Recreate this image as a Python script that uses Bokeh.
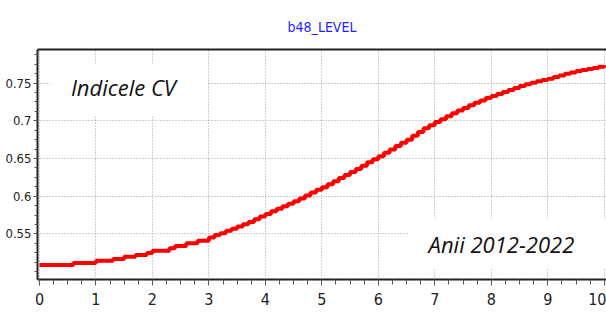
import numpy as np
from bokeh.plotting import figure
from bokeh.models import LinearAxis, FixedTicker, BoxAnnotation, Label, Range1d
from bokeh.embed import file_html
from bokeh.resources import INLINE

# ---- data ----
years = [round(0.1 * i, 1) for i in range(101)]  # model time 0..10 (2012-2022)
level = [
    0.5090, 0.5090, 0.5090, 0.5090, 0.5090, 0.5090, 0.5116, 0.5116, 0.5116, 0.5116,
    0.5147, 0.5147, 0.5147, 0.5169, 0.5169, 0.5200, 0.5200, 0.5222, 0.5222, 0.5249,
    0.5279, 0.5279, 0.5279, 0.5310, 0.5341, 0.5341, 0.5376, 0.5376, 0.5411, 0.5411,
    0.5455, 0.5487, 0.5510, 0.5544, 0.5570, 0.5600, 0.5630, 0.5660, 0.5695, 0.5730,
    0.5765, 0.5800, 0.5835, 0.5869, 0.5900, 0.5935, 0.5970, 0.6010, 0.6050, 0.6085,
    0.6120, 0.6160, 0.6200, 0.6240, 0.6280, 0.6320, 0.6360, 0.6405, 0.6450, 0.6490,
    0.6530, 0.6575, 0.6620, 0.6665, 0.6710, 0.6750, 0.6800, 0.6850, 0.6900, 0.6940,
    0.6984, 0.7020, 0.7060, 0.7100, 0.7135, 0.7170, 0.7205, 0.7240, 0.7270, 0.7300,
    0.7328, 0.7355, 0.7380, 0.7407, 0.7435, 0.7460, 0.7485, 0.7505, 0.7525, 0.7540,
    0.7558, 0.7580, 0.7600, 0.7624, 0.7640, 0.7659, 0.7672, 0.7685, 0.7700, 0.7715,
    0.7734,
]
x_ticks = [0, 1, 2, 3, 4, 5, 6, 7, 8, 9, 10]
x_tick_labels = ["0", "1", "2", "3", "4", "5", "6", "7", "8", "9", "10"]
y_ticks = [0.55, 0.6, 0.65, 0.7, 0.75]
y_tick_labels = ["0.55", "0.6", "0.65", "0.7", "0.75"]
title_text = "b48_LEVEL"
note_left = "Indicele CV"
note_right = "Anii 2012-2022"

NARROW = "'DejaVu Sans Condensed', sans-serif"

p = figure(width=606, height=312, output_backend="svg", toolbar_location=None,
           x_range=Range1d(-0.035, 10.04), y_range=Range1d(0.4897, 0.7944),
           title=title_text, min_border_left=37, min_border_right=0,
           min_border_top=49, min_border_bottom=33)
p.outline_line_color = None
p.background_fill_color = "white"
p.border_fill_color = "white"

p.title.align = "center"
p.title.text_color = "#2222ff"
p.title.text_font = NARROW
p.title.text_font_style = "normal"
p.title.text_font_size = "14px"
p.title.standoff = 29

p.step(years, level, mode="after", line_width=4, line_color="#ff0000")

xt = FixedTicker(ticks=x_ticks, minor_ticks=[0.25 * i for i in range(0, 41)])
yt = FixedTicker(ticks=y_ticks, minor_ticks=[0.4875 + 0.0125 * i for i in range(0, 25)])
p.xaxis.ticker = xt
p.yaxis.ticker = yt
p.xaxis.major_label_overrides = dict(zip(x_ticks, x_tick_labels))
p.yaxis.major_label_overrides = dict(zip(y_ticks, y_tick_labels))

for ax in (p.xaxis, p.yaxis):
    ax.axis_line_width = 2
    ax.axis_line_color = "#222222"
    ax.major_tick_in = 0
    ax.minor_tick_in = 0
    ax.major_tick_line_color = "#555555"
    ax.minor_tick_line_color = "#555555"
    ax.major_label_text_font = NARROW
    ax.major_label_text_color = "#222222"
p.yaxis.major_label_text_font_size = "13px"
p.xaxis.major_label_text_font_size = "16px"
p.xaxis.major_tick_out = 6
p.xaxis.minor_tick_out = 5
p.xaxis.major_label_standoff = 7
p.yaxis.major_tick_out = 4
p.yaxis.minor_tick_out = 3
p.yaxis.major_label_standoff = 2

for g in (p.xgrid, p.ygrid):
    g.grid_line_color = "#a0a0a0"
    g.grid_line_dash = "1 2"
    g.grid_line_width = 1

top_axis = LinearAxis(axis_line_width=2, axis_line_color="#222222",
                      major_tick_line_color=None, minor_tick_line_color=None,
                      major_tick_out=0, minor_tick_out=0, major_tick_in=0, minor_tick_in=0,
                      major_label_text_font_size="0px", major_label_standoff=0)
top_axis.ticker = FixedTicker(ticks=[])
p.add_layout(top_axis, "above")

box_l = BoxAnnotation(left=0.19, right=2.97, bottom=0.707, top=0.776,
                      fill_color="white", fill_alpha=1.0, line_color=None)
box_r = BoxAnnotation(left=6.55, right=10.2, bottom=0.5041, top=0.5702,
                      fill_color="white", fill_alpha=1.0, line_color=None)
p.add_layout(box_l)
p.add_layout(box_r)

p.add_layout(Label(x=0.556, y=0.7443, text=note_left, text_font="Open Sans",
                   text_font_style="italic", text_font_size="22px",
                   text_color="#111111", text_baseline="alphabetic"))
p.add_layout(Label(x=6.89, y=0.5363, text=note_right, text_font="Open Sans",
                   text_font_style="italic", text_font_size="22px",
                   text_color="#111111", text_baseline="alphabetic"))

open("out.html", "w").write(file_html(p, INLINE))
